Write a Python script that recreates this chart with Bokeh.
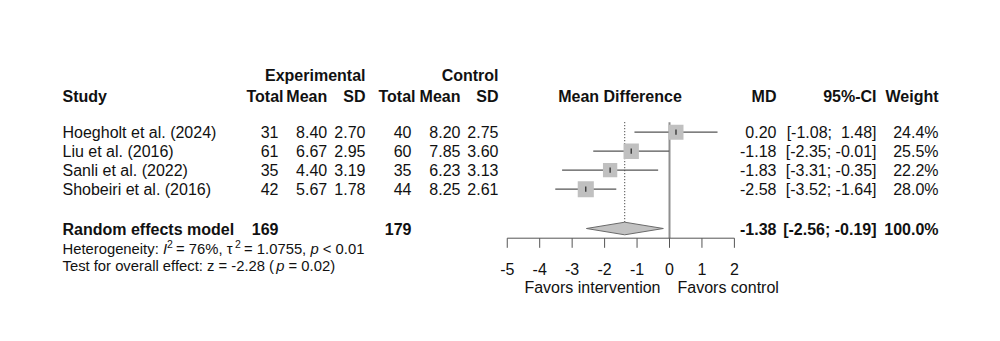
from bokeh.plotting import figure
from bokeh.models import Range1d
from bokeh.core.properties import value
from bokeh.embed import file_html
from bokeh.resources import INLINE
import math

# ---------------- data ----------------
studies = ["Hoegholt et al. (2024)", "Liu et al. (2016)", "Sanli et al. (2022)", "Shobeiri et al. (2016)"]
exp_n = [31, 61, 35, 42]
exp_mean = [8.40, 6.67, 4.40, 5.67]
exp_sd = [2.70, 2.95, 3.19, 1.78]
ctl_n = [40, 60, 35, 44]
ctl_mean = [8.20, 7.85, 6.23, 8.25]
ctl_sd = [2.75, 3.60, 3.13, 2.61]
md = [0.20, -1.18, -1.83, -2.58]
ci_lo = [-1.08, -2.35, -3.31, -3.52]
ci_hi = [1.48, -0.01, -0.35, -1.64]
weight = [24.4, 25.5, 22.2, 28.0]

pooled_label = "Random effects model"
pooled_exp_n = 169
pooled_ctl_n = 179
pooled_md = -1.38
pooled_lo = -2.56
pooled_hi = -0.19
pooled_weight = 100.0

null_value = 0
ticks = [-5, -4, -3, -2, -1, 0, 1, 2]
tick_labels = ["-5", "-4", "-3", "-2", "-1", "0", "1", "2"]
label_left = "Favors intervention"
label_right = "Favors control"

het_parts = ["Heterogeneity: ", "I", "2", " = 76%, ", "\u03c4", "2", " = 1.0755, ", "p", " < 0.01"]
test_parts = ["Test for overall effect: z = -2.28 (", "p", " = 0.02)"]


def nb(s):
    return s.replace(" ", "\u00a0")


# ---------------- layout ----------------
FONT = value("Liberation Sans")
W, H = 1000, 341
row_top, row_step = 131.7, 19.0
row_y = [row_top + i * row_step for i in range(len(studies))]
y_group, y_head = 75, 95.5
y_re = 228.7
y_het, y_test = 248.5, 265.0
axis_y = 237.7
line_top = 121.7
px_per_unit = 32.45
x_zero_px = 669.0
md_left = -x_zero_px / px_per_unit
md_right = (W - x_zero_px) / px_per_unit

p = figure(width=W, height=H, x_range=Range1d(0, W), y_range=Range1d(H, 0),
           output_backend="svg", toolbar_location=None, min_border=0,
           x_axis_location=None, y_axis_location=None)
p.extra_x_ranges = {"md": Range1d(md_left, md_right)}
p.grid.visible = False
p.outline_line_color = None
p.background_fill_color = "white"
p.border_fill_color = "white"


def txt(x, y, texts, align="left", bold=False, italic=False, size="16px", rng="default", color="#111111"):
    texts = [nb(t) for t in texts]
    n = len(texts)
    xs = x if isinstance(x, list) else [x] * n
    ys = y if isinstance(y, list) else [y] * n
    style = "bold" if bold else ("italic" if italic else "normal")
    p.text(x=xs, y=ys, text=texts, text_align=align, text_baseline="middle",
           text_font=FONT, text_font_size=size, text_font_style=style,
           text_color=color, x_range_name=rng)


# headers
txt(365, y_group, ["Experimental"], "right", bold=True)
txt(498, y_group, ["Control"], "right", bold=True)
txt(62, y_head, ["Study"], "left", bold=True)
txt(283, y_head, ["Total"], "right", bold=True)
txt(326.7, y_head, ["Mean"], "right", bold=True)
txt(365, y_head, ["SD"], "right", bold=True)
txt(415, y_head, ["Total"], "right", bold=True)
txt(460, y_head, ["Mean"], "right", bold=True)
txt(498, y_head, ["SD"], "right", bold=True)
txt(619.5, y_head, ["Mean Difference"], "center", bold=True)
txt(776, y_head, ["MD"], "right", bold=True)
txt(876, y_head, ["95%-CI"], "right", bold=True)
txt(938, y_head, ["Weight"], "right", bold=True)

# study rows
txt(62, row_y, studies, "left")
txt(278, row_y, [str(v) for v in exp_n], "right")
txt(326.7, row_y, [f"{v:.2f}" for v in exp_mean], "right")
txt(365, row_y, [f"{v:.2f}" for v in exp_sd], "right")
txt(411, row_y, [str(v) for v in ctl_n], "right")
txt(460, row_y, [f"{v:.2f}" for v in ctl_mean], "right")
txt(498, row_y, [f"{v:.2f}" for v in ctl_sd], "right")
txt(776, row_y, [f"{v:.2f}" for v in md], "right")
txt(876, row_y, [f"[{a:5.2f}; {b:5.2f}]" for a, b in zip(ci_lo, ci_hi)], "right")
txt(938, row_y, [f"{w:.1f}%" for w in weight], "right")

# pooled row
txt(62, y_re, [pooled_label], "left", bold=True)
txt(278, y_re, [str(pooled_exp_n)], "right", bold=True)
txt(411, y_re, [str(pooled_ctl_n)], "right", bold=True)
txt(776, y_re, [f"{pooled_md:.2f}"], "right", bold=True)
txt(876, y_re, [f"[{pooled_lo:5.2f}; {pooled_hi:5.2f}]"], "right", bold=True)
txt(938, y_re, [f"{pooled_weight:.1f}%"], "right", bold=True)

# heterogeneity line (pieces)
HS = "14.8px"
het_x = [62, 162.4, 166.6, 171.5, 226.2, 234.5, 239.5, 310.0, 318.2]
het_kind = ["n", "i", "s", "n", "n", "s", "n", "i", "n"]
for xx, part, kind in zip(het_x, het_parts, het_kind):
    if kind == "s":
        txt(xx, y_het - 5, [part], "left", size="10.5px")
    else:
        txt(xx, y_het, [part], "left", italic=(kind == "i"), size=HS)
test_x = [62, 275.8, 284.0]
test_kind = ["n", "i", "n"]
for xx, part, kind in zip(test_x, test_parts, test_kind):
    txt(xx, y_test, [part], "left", italic=(kind == "i"), size=HS)

# ---------------- forest ----------------
p.segment(x0=[null_value], x1=[null_value], y0=[line_top], y1=[axis_y],
          line_color="#8f8f8f", line_width=2, x_range_name="md")
dia_half = 6.3
y_dia = 228.0
p.segment(x0=[pooled_md], x1=[pooled_md], y0=[line_top], y1=[y_dia - dia_half],
          line_color="#222222", line_width=1, line_dash="1 2", x_range_name="md")

p.segment(x0=ci_lo, x1=ci_hi, y0=row_y, y1=row_y, line_color="#555555",
          line_width=1.3, x_range_name="md")
sq = [3.04 * math.sqrt(w) for w in weight]
p.rect(x=md, y=row_y, width=sq, height=sq, width_units="screen", height_units="screen",
       fill_color="#c0c0c0", line_color=None, x_range_name="md")
p.segment(x0=md, x1=md, y0=[y - 2.6 for y in row_y], y1=[y + 2.6 for y in row_y],
          line_color="#222222", line_width=1.2, x_range_name="md")

p.patch(x=[pooled_lo, pooled_md, pooled_hi, pooled_md],
        y=[y_dia, y_dia - dia_half, y_dia, y_dia + dia_half],
        fill_color="#c2c2c2", line_color="#6a6a6a", line_width=1, x_range_name="md")

p.segment(x0=[ticks[0]], x1=[ticks[-1]], y0=[axis_y], y1=[axis_y],
          line_color="#555555", line_width=1, x_range_name="md")
p.segment(x0=ticks, x1=ticks, y0=[axis_y] * len(ticks), y1=[axis_y + 9.6] * len(ticks),
          line_color="#555555", line_width=1, x_range_name="md")
txt(ticks, 268.3, tick_labels, "center", rng="md")
txt(x_zero_px - 9, 286.7, [label_left], "right")
txt(x_zero_px + 8, 286.7, [label_right], "left")

open("out.html", "w").write(file_html(p, INLINE))
